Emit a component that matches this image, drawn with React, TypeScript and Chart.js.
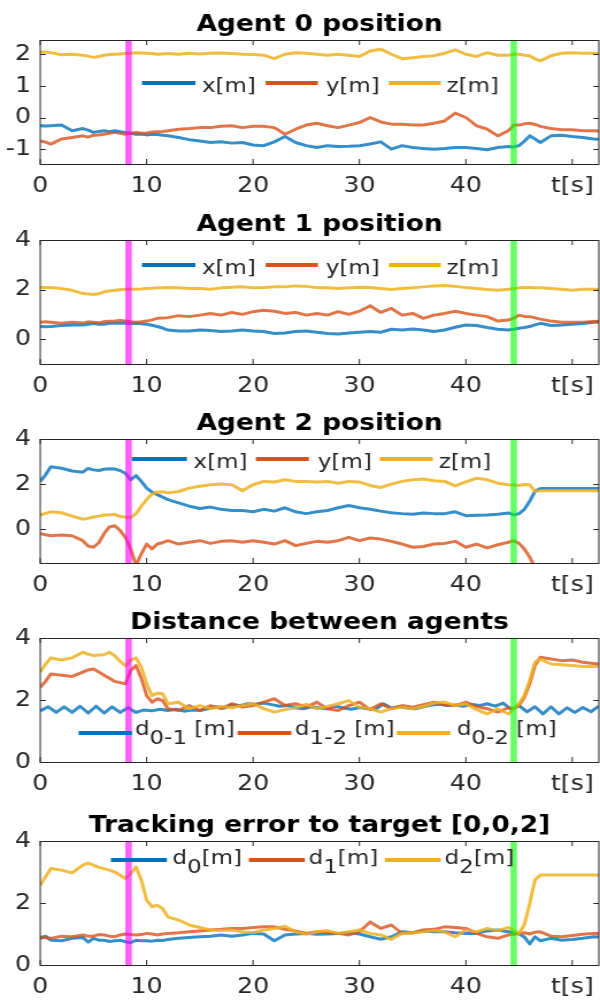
import React, { useEffect, useRef } from 'react';
import { Chart, registerables } from 'chart.js';

Chart.register(...registerables);

// ---------- layout constants (not data) ----------
const STRETCH = 1.15; // the reference figure is stretched horizontally
const CW = 522; // internal canvas width (600 / 1.15)
const CH = 199;
const FONT = '"DejaVu Sans", sans-serif';
const AXIS_COLOR = '#262626';
const BLUE = '#0072BD';
const ORANGE = '#D95319';
const YELLOW = '#EDB120';
const LINE_BLUE = 'rgba(0,114,189,0.8)';
const LINE_ORANGE = 'rgba(217,83,25,0.8)';
const LINE_YELLOW = 'rgba(237,177,32,0.85)';

// ---------- data ----------
const X_MIN = 0;
const X_MAX = 52.5;
const X_TICKS = [0, 10, 20, 30, 40, 50];
const X_TICK_LABELS = ['0', '10', '20', '30', '40', 't[s]'];
const MARK_MAGENTA = 8.3;
const MARK_GREEN = 44.5;

const T = [
  0, 0.5, 1, 2, 3, 4, 4.5, 5, 5.5, 6, 6.5, 7, 7.5, 8, 8.5, 9, 9.5, 10, 10.5, 11, 11.5,
  12, 13, 14, 15, 16, 17, 18, 19, 20, 21, 22, 23, 24, 25, 26, 27, 28, 29, 30, 31, 32, 33, 34, 35, 36, 37, 38, 39, 40, 41, 42, 43, 44,
  44.5, 45, 45.5, 46, 46.5, 47, 48, 49, 50, 51, 52, 52.5,
];

// Agent 0
const A0X = [
  -0.26, -0.27, -0.26, -0.24, -0.42, -0.35, -0.40, -0.47, -0.44, -0.42, -0.45, -0.42, -0.45, -0.47, -0.50, -0.53, -0.52, -0.55, -0.53, -0.54, -0.56,
  -0.58, -0.63, -0.70, -0.74, -0.79, -0.77, -0.81, -0.79, -0.87, -0.89, -0.77, -0.60, -0.79, -0.89, -0.95, -0.89, -0.92, -0.91, -0.89, -0.84, -0.77, -1.00, -0.89, -0.95, -0.98, -1.00, -0.98, -0.95, -0.95, -0.98, -1.02, -0.95, -0.92,
  -0.93, -0.89, -0.75, -0.58, -0.68, -0.79, -0.58, -0.56, -0.60, -0.63, -0.68, -0.69,
];
const A0Y = [
  -0.74, -0.78, -0.84, -0.68, -0.63, -0.58, -0.62, -0.56, -0.55, -0.53, -0.50, -0.47, -0.50, -0.53, -0.50, -0.47, -0.50, -0.49, -0.46, -0.45, -0.44,
  -0.42, -0.37, -0.35, -0.32, -0.32, -0.28, -0.26, -0.32, -0.28, -0.28, -0.32, -0.53, -0.37, -0.24, -0.18, -0.26, -0.32, -0.24, -0.16, 0.00, -0.14, -0.21, -0.21, -0.24, -0.24, -0.18, -0.11, 0.14, 0.00, -0.26, -0.37, -0.58, -0.42,
  -0.24, -0.24, -0.20, -0.18, -0.22, -0.28, -0.35, -0.39, -0.39, -0.42, -0.42, -0.43,
];
const A0Z = [
  2.07, 2.07, 2.05, 1.98, 2.00, 1.97, 1.94, 1.90, 1.93, 1.97, 1.99, 2.00, 2.01, 2.02, 2.03, 2.05, 2.04, 2.03, 2.02, 2.00, 2.01,
  2.02, 2.00, 2.03, 2.01, 2.03, 2.04, 2.02, 2.00, 1.99, 1.97, 1.86, 2.00, 2.05, 2.03, 2.00, 1.97, 2.00, 1.97, 1.93, 2.10, 2.16, 2.00, 1.86, 1.89, 1.93, 1.95, 2.03, 2.14, 2.00, 1.93, 2.05, 1.97, 1.97,
  2.00, 2.00, 1.97, 1.95, 1.85, 1.79, 1.95, 2.03, 2.05, 2.03, 2.03, 2.02,
];

// Agent 1
const A1X = [
  0.51, 0.50, 0.51, 0.55, 0.57, 0.57, 0.60, 0.63, 0.60, 0.60, 0.64, 0.65, 0.64, 0.64, 0.63, 0.64, 0.62, 0.60, 0.56, 0.51, 0.45,
  0.37, 0.33, 0.33, 0.37, 0.35, 0.31, 0.33, 0.37, 0.33, 0.31, 0.23, 0.25, 0.31, 0.33, 0.28, 0.23, 0.21, 0.25, 0.28, 0.31, 0.28, 0.40, 0.37, 0.41, 0.37, 0.31, 0.37, 0.48, 0.57, 0.55, 0.47, 0.40, 0.37,
  0.40, 0.44, 0.47, 0.51, 0.58, 0.64, 0.55, 0.57, 0.60, 0.63, 0.68, 0.69,
];
const A1Y = [
  0.68, 0.70, 0.68, 0.64, 0.68, 0.65, 0.70, 0.68, 0.66, 0.71, 0.72, 0.73, 0.75, 0.73, 0.70, 0.68, 0.70, 0.73, 0.78, 0.84, 0.85,
  0.87, 0.95, 0.91, 0.97, 1.04, 0.97, 1.08, 1.00, 1.11, 1.17, 1.13, 1.04, 1.08, 0.97, 1.04, 0.97, 1.11, 1.00, 1.13, 1.35, 1.08, 1.24, 0.97, 1.04, 0.84, 0.97, 1.04, 1.13, 1.04, 0.97, 0.91, 0.73, 0.77,
  0.85, 0.97, 0.92, 0.91, 0.86, 0.81, 0.73, 0.68, 0.68, 0.68, 0.71, 0.72,
];
const A1Z = [
  2.08, 2.08, 2.08, 2.04, 1.97, 1.84, 1.82, 1.80, 1.83, 1.91, 1.94, 1.97, 1.99, 2.01, 2.01, 2.01, 2.02, 2.04, 2.05, 2.07, 2.07,
  2.08, 2.07, 2.04, 2.04, 2.01, 2.07, 2.09, 2.11, 2.07, 2.08, 2.11, 2.11, 2.15, 2.13, 2.08, 2.07, 2.04, 2.07, 2.09, 2.08, 2.04, 2.00, 2.04, 2.07, 2.11, 2.15, 2.17, 2.13, 2.08, 2.04, 2.00, 1.97, 2.01,
  2.03, 2.07, 2.08, 2.08, 2.07, 2.07, 2.04, 2.01, 1.97, 2.01, 2.01, 2.00,
];

// Agent 2
const A2X = [
  2.12, 2.41, 2.77, 2.70, 2.58, 2.53, 2.70, 2.63, 2.60, 2.66, 2.68, 2.67, 2.60, 2.48, 2.19, 2.38, 2.12, 1.82, 1.65, 1.53, 1.42,
  1.31, 1.17, 1.02, 0.92, 0.98, 0.88, 0.83, 0.83, 0.77, 0.88, 0.80, 0.95, 0.77, 0.69, 0.77, 0.83, 0.95, 1.05, 0.95, 0.88, 0.80, 0.73, 0.69, 0.66, 0.72, 0.69, 0.69, 0.77, 0.60, 0.62, 0.63, 0.66, 0.72,
  0.63, 0.69, 0.88, 1.24, 1.68, 1.80, 1.80, 1.80, 1.80, 1.80, 1.80, 1.80,
];
const A2Y = [
  -0.19, -0.25, -0.29, -0.26, -0.29, -0.51, -0.75, -0.80, -0.60, -0.20, 0.10, 0.15, -0.05, -0.36, -0.88, -1.60, -1.10, -0.66, -0.88, -0.66, -0.60,
  -0.51, -0.66, -0.58, -0.51, -0.63, -0.54, -0.51, -0.58, -0.51, -0.58, -0.66, -0.51, -0.73, -0.63, -0.54, -0.58, -0.51, -0.36, -0.51, -0.39, -0.44, -0.54, -0.66, -0.80, -0.77, -0.66, -0.63, -0.54, -0.80, -0.66, -0.83, -0.69, -0.58,
  -0.51, -0.63, -0.88, -1.24, -1.70, -2.00, -2.00, -2.00, -2.00, -2.00, -2.00, -2.00,
];
const A2Z = [
  0.63, 0.70, 0.77, 0.73, 0.58, 0.44, 0.48, 0.54, 0.58, 0.63, 0.63, 0.66, 0.56, 0.54, 0.51, 0.69, 1.02, 1.31, 1.56, 1.65, 1.66,
  1.61, 1.67, 1.82, 1.90, 1.97, 2.00, 1.97, 1.71, 1.97, 2.12, 2.09, 2.19, 2.12, 2.12, 2.09, 2.12, 2.04, 2.12, 2.09, 1.94, 1.85, 2.00, 2.12, 2.19, 2.23, 2.15, 2.12, 1.92, 2.10, 2.26, 2.19, 2.04, 1.97,
  1.96, 1.94, 1.98, 1.97, 1.68, 1.70, 1.70, 1.70, 1.70, 1.70, 1.70, 1.70,
];

// Distances between agents
const T01 = [
  0, 0.75, 1.5, 2.25, 3, 3.75, 4.5, 5.25, 6, 6.75, 7.5, 8.25, 9, 9.75, 10.5, 11.25, 12, 12.75, 13.5, 14.25,
  15, 15.75, 16.5, 17.25, 18, 18.75, 19.5, 20.25, 21, 21.75, 22.5, 23.25, 24, 24.75, 25.5, 26.25, 27, 27.75, 28.5, 29.25,
  30, 30.75, 31.5, 32.25, 33, 33.75, 34.5, 35.25, 36, 36.75, 37.5, 38.25, 39, 39.75, 40.5, 41.25, 42, 42.75, 43.5, 44.25,
  45, 45.75, 46.5, 47.25, 48, 48.75, 49.5, 50.25, 51, 51.75, 52.5,
];
const D01 = [
  1.65, 1.78, 1.60, 1.78, 1.60, 1.80, 1.58, 1.80, 1.58, 1.78, 1.60, 1.75, 1.60, 1.68, 1.65, 1.70, 1.66, 1.70, 1.64, 1.68,
  1.66, 1.72, 1.78, 1.74, 1.85, 1.82, 1.88, 1.86, 1.90, 1.85, 1.80, 1.82, 1.75, 1.72, 1.78, 1.74, 1.72, 1.80, 1.74, 1.70,
  1.76, 1.72, 1.70, 1.88, 1.74, 1.78, 1.74, 1.72, 1.78, 1.84, 1.86, 1.82, 1.84, 1.80, 1.86, 1.82, 1.88, 1.80, 1.90, 1.70,
  1.82, 1.62, 1.78, 1.55, 1.78, 1.55, 1.75, 1.60, 1.76, 1.62, 1.80,
];
const D12 = [
  2.41, 2.60, 2.84, 2.80, 2.76, 2.90, 2.97, 3.00, 2.90, 2.80, 2.70, 2.60, 2.56, 2.52, 2.95, 3.11, 2.70, 2.14, 1.93, 2.04, 1.98,
  1.72, 1.66, 1.82, 1.66, 1.82, 1.72, 1.88, 1.77, 1.82, 1.93, 2.04, 1.82, 1.88, 1.77, 1.93, 1.72, 1.66, 1.82, 1.93, 1.69, 1.88, 1.72, 1.82, 1.77, 1.85, 1.93, 1.85, 1.82, 1.93, 1.79, 1.72, 1.61, 1.75,
  1.72, 1.82, 2.09, 2.52, 3.11, 3.38, 3.32, 3.27, 3.29, 3.22, 3.18, 3.16,
];
const D02 = [
  2.90, 3.15, 3.36, 3.29, 3.36, 3.54, 3.48, 3.43, 3.45, 3.46, 3.54, 3.43, 3.25, 3.11, 3.29, 3.36, 3.06, 2.52, 2.14, 2.22, 2.20,
  1.88, 1.93, 1.72, 1.82, 1.72, 1.79, 1.75, 1.82, 1.88, 1.72, 1.61, 1.69, 1.75, 1.86, 1.72, 1.79, 1.88, 1.98, 1.77, 1.72, 1.61, 1.72, 1.77, 1.72, 1.79, 1.90, 1.93, 1.82, 1.88, 1.69, 1.55, 1.72, 1.55,
  1.72, 1.88, 2.14, 2.63, 3.22, 3.32, 3.16, 3.14, 3.11, 3.08, 3.08, 3.08,
];

// Tracking error
const E0 = [
  0.86, 0.93, 0.80, 0.78, 0.86, 0.89, 0.74, 0.86, 0.80, 0.80, 0.76, 0.78, 0.80, 0.75, 0.72, 0.80, 0.78, 0.78, 0.77, 0.80, 0.79,
  0.82, 0.86, 0.89, 0.91, 0.93, 0.97, 0.93, 0.97, 1.02, 1.00, 0.78, 0.97, 1.00, 1.02, 0.99, 1.00, 1.02, 1.04, 1.00, 0.91, 0.83, 0.91, 1.07, 1.04, 1.10, 1.07, 1.07, 1.04, 1.02, 1.02, 1.10, 1.13, 1.07,
  1.04, 1.00, 0.90, 0.68, 0.91, 0.78, 0.86, 0.80, 0.82, 0.86, 0.91, 0.90,
];
const E1 = [
  0.91, 0.88, 0.86, 0.93, 0.91, 0.97, 0.93, 0.93, 0.98, 0.97, 0.93, 0.91, 0.97, 1.00, 0.98, 0.97, 0.98, 1.02, 1.00, 0.97, 1.00,
  1.02, 1.04, 1.07, 1.10, 1.13, 1.15, 1.18, 1.18, 1.21, 1.23, 1.23, 1.15, 1.10, 1.02, 1.07, 1.04, 1.02, 0.97, 1.07, 1.39, 1.18, 1.29, 1.02, 1.04, 1.13, 1.15, 1.23, 1.21, 1.18, 1.02, 0.91, 0.86, 0.97,
  0.99, 1.02, 1.04, 1.00, 1.06, 1.07, 0.93, 0.91, 0.95, 0.99, 1.02, 1.02,
];
const E2 = [
  2.57, 2.85, 3.11, 3.06, 2.97, 3.22, 3.29, 3.22, 3.15, 3.11, 3.06, 3.00, 2.90, 2.79, 2.95, 3.16, 2.74, 2.09, 1.88, 1.93, 1.82,
  1.55, 1.45, 1.29, 1.21, 1.13, 1.11, 1.13, 1.07, 1.04, 1.13, 1.18, 1.25, 1.07, 0.99, 1.07, 1.11, 1.02, 1.07, 1.13, 1.02, 0.97, 0.83, 1.02, 1.04, 1.07, 1.11, 1.07, 0.91, 1.13, 1.07, 1.18, 1.11, 1.21,
  1.11, 1.02, 1.30, 1.98, 2.75, 2.90, 2.90, 2.90, 2.90, 2.90, 2.90, 2.90,
];

const TICKS_P1 = [-1, 0, 1, 2];
const TICKS_024 = [0, 2, 4];

type LegendLabel = { main: string; sub?: string; suffix?: string };
type Series = { xs: number[]; ys: number[]; color: string; key: string };
type PanelDef = {
  top: number;
  title: string;
  yMin: number;
  yMax: number;
  yTicks: number[];
  series: Series[];
  legend: {
    y: number;
    baseOff: number;
    sx: number[];
    ex: number[];
    tx: number[];
    labels: LegendLabel[];
  };
};

const XYZ_LABELS: LegendLabel[] = [{ main: 'x[m]' }, { main: 'y[m]' }, { main: 'z[m]' }];
const SERIES_COLORS = [BLUE, ORANGE, YELLOW];
const LINE_COLORS = [LINE_BLUE, LINE_ORANGE, LINE_YELLOW];

const PANELS: PanelDef[] = [
  {
    top: 0,
    title: 'Agent 0 position',
    yMin: -1.47,
    yMax: 2.45,
    yTicks: TICKS_P1,
    series: [
      { xs: T, ys: A0X, color: LINE_BLUE, key: 'x' },
      { xs: T, ys: A0Y, color: LINE_ORANGE, key: 'y' },
      { xs: T, ys: A0Z, color: LINE_YELLOW, key: 'z' },
    ],
    legend: { y: 83, baseOff: 8.5, sx: [142, 265.7, 389], ex: [195.5, 318, 441], tx: [202, 326, 446.7], labels: XYZ_LABELS },
  },
  {
    top: 200,
    title: 'Agent 1 position',
    yMin: -1,
    yMax: 4,
    yTicks: TICKS_024,
    series: [
      { xs: T, ys: A1X, color: LINE_BLUE, key: 'x' },
      { xs: T, ys: A1Y, color: LINE_ORANGE, key: 'y' },
      { xs: T, ys: A1Z, color: LINE_YELLOW, key: 'z' },
    ],
    legend: { y: 65, baseOff: 8.5, sx: [142, 265.7, 389], ex: [195.5, 318, 441], tx: [202, 326, 446.7], labels: XYZ_LABELS },
  },
  {
    top: 399,
    title: 'Agent 2 position',
    yMin: -1.5,
    yMax: 4,
    yTicks: TICKS_024,
    series: [
      { xs: T, ys: A2X, color: LINE_BLUE, key: 'x' },
      { xs: T, ys: A2Y, color: LINE_ORANGE, key: 'y' },
      { xs: T, ys: A2Z, color: LINE_YELLOW, key: 'z' },
    ],
    legend: { y: 60, baseOff: 8.5, sx: [132, 256, 380], ex: [187, 309, 433], tx: [193.6, 318, 439], labels: XYZ_LABELS },
  },
  {
    top: 598,
    title: 'Distance between agents',
    yMin: 0,
    yMax: 4,
    yTicks: TICKS_024,
    series: [
      { xs: T01, ys: D01, color: LINE_BLUE, key: 'd01' },
      { xs: T, ys: D12, color: LINE_ORANGE, key: 'd12' },
      { xs: T, ys: D02, color: LINE_YELLOW, key: 'd02' },
    ],
    legend: {
      y: 135,
      baseOff: 2,
      sx: [78.6, 237.7, 397],
      ex: [132, 291.4, 450.5],
      tx: [135, 295, 457],
      labels: [
        { main: 'd', sub: '0-1', suffix: ' [m]' },
        { main: 'd', sub: '1-2', suffix: ' [m]' },
        { main: 'd', sub: '0-2', suffix: ' [m]' },
      ],
    },
  },
  {
    top: 801,
    title: 'Tracking error to target [0,0,2]',
    yMin: 0,
    yMax: 4,
    yTicks: TICKS_024,
    series: [
      { xs: T, ys: E0, color: LINE_BLUE, key: 'd0' },
      { xs: T, ys: E1, color: LINE_ORANGE, key: 'd1' },
      { xs: T, ys: E2, color: LINE_YELLOW, key: 'd2' },
    ],
    legend: {
      y: 59,
      baseOff: 4,
      sx: [111, 249, 385],
      ex: [167, 305, 441],
      tx: [172.5, 308.7, 444.8],
      labels: [
        { main: 'd', sub: '0', suffix: '[m]' },
        { main: 'd', sub: '1', suffix: '[m]' },
        { main: 'd', sub: '2', suffix: '[m]' },
      ],
    },
  },
];

function makeDecor(p: PanelDef) {
  return {
    id: 'decor',
    afterDraw(chart: any) {
      const { ctx, chartArea: a, scales } = chart;
      ctx.save();
      // legend (no box)
      const lg = p.legend;
      for (let i = 0; i < lg.labels.length; i++) {
        ctx.beginPath();
        ctx.strokeStyle = SERIES_COLORS[i];
        ctx.lineWidth = 4;
        ctx.lineCap = 'butt';
        ctx.moveTo(lg.sx[i] / STRETCH, lg.y);
        ctx.lineTo(lg.ex[i] / STRETCH, lg.y);
        ctx.stroke();
        const lab = lg.labels[i];
        ctx.fillStyle = AXIS_COLOR;
        ctx.textAlign = 'left';
        ctx.textBaseline = 'alphabetic';
        ctx.font = `20px ${FONT}`;
        let x = lg.tx[i] / STRETCH;
        const base = lg.y + lg.baseOff;
        ctx.fillText(lab.main, x, base);
        x += ctx.measureText(lab.main).width;
        if (lab.sub) {
          ctx.fillText(lab.sub, x, base + 9);
          x += ctx.measureText(lab.sub).width;
        }
        if (lab.suffix) {
          ctx.fillText(lab.suffix, x, base);
        }
      }
      // axes box
      ctx.strokeStyle = AXIS_COLOR;
      ctx.lineWidth = 1;
      ctx.strokeRect(a.left, a.top + 0.5, a.right - a.left, a.bottom - a.top);
      // inward ticks
      ctx.beginPath();
      for (const v of X_TICKS) {
        const px = scales.x.getPixelForValue(v);
        ctx.moveTo(px, a.bottom);
        ctx.lineTo(px, a.bottom - 5);
        ctx.moveTo(px, a.top);
        ctx.lineTo(px, a.top + 5);
      }
      for (const v of p.yTicks) {
        const py = Math.round(scales.y.getPixelForValue(v)) + 0.5;
        ctx.moveTo(a.left, py);
        ctx.lineTo(a.left + 4.8, py);
        ctx.moveTo(a.right, py);
        ctx.lineTo(a.right - 4.8, py);
      }
      ctx.stroke();
      // title
      ctx.fillStyle = '#000';
      ctx.font = `bold 23px ${FONT}`;
      ctx.textAlign = 'center';
      ctx.textBaseline = 'alphabetic';
      ctx.fillText(p.title, (a.left + a.right) / 2, 31);
      ctx.restore();
    },
  };
}

function buildConfig(p: PanelDef): any {
  const datasets: any[] = [];
  const mk = (t: number, color: string) => ({
    type: 'line',
    data: [
      { x: t, y: p.yMin - 1 },
      { x: t, y: p.yMax + 1 },
    ],
    borderColor: color,
    borderWidth: 6.5 / STRETCH,
    borderCapStyle: 'butt',
    pointRadius: 0,
    order: 0,
  });
  datasets.push(mk(MARK_MAGENTA, 'rgba(255,0,255,0.62)'));
  datasets.push(mk(MARK_GREEN, 'rgba(0,255,0,0.6)'));
  p.series.forEach((s, i) => {
    const n = Math.min(s.xs.length, s.ys.length);
    const pts = [] as { x: number; y: number }[];
    for (let k = 0; k < n; k++) pts.push({ x: s.xs[k], y: s.ys[k] });
    datasets.push({
      type: 'line',
      label: s.key,
      data: pts,
      borderColor: LINE_COLORS[i],
      borderWidth: 3,
      borderJoinStyle: 'round',
      pointRadius: 0,
      tension: 0,
      fill: false,
      order: 3 - i,
    });
  });
  return {
    type: 'line',
    data: { datasets },
    options: {
      responsive: false,
      maintainAspectRatio: false,
      animation: false,
      devicePixelRatio: 1,
      events: [],
      layout: { padding: { top: 40, left: 0, right: 1, bottom: 0 } },
      plugins: { legend: { display: false }, tooltip: { enabled: false }, title: { display: false } },
      scales: {
        x: {
          type: 'linear',
          min: X_MIN,
          max: X_MAX,
          grid: { display: false, drawTicks: false },
          border: { display: false },
          afterBuildTicks: (scale: any) => {
            scale.ticks = X_TICKS.map((v) => ({ value: v }));
          },
          afterFit: (scale: any) => {
            scale.height = 35;
            scale.paddingLeft = 0;
            scale.paddingRight = 0;
          },
          ticks: {
            autoSkip: false,
            maxRotation: 0,
            padding: 9,
            color: AXIS_COLOR,
            font: { family: FONT, size: 22 },
            callback: (v: number) => {
              const i = X_TICKS.indexOf(v);
              return i >= 0 ? X_TICK_LABELS[i] : '';
            },
          },
        },
        y: {
          type: 'linear',
          min: p.yMin,
          max: p.yMax,
          grid: { display: false, drawTicks: false },
          border: { display: false },
          afterBuildTicks: (scale: any) => {
            scale.ticks = p.yTicks.map((v) => ({ value: v }));
          },
          afterFit: (scale: any) => {
            scale.width = 35;
            scale.paddingTop = 0;
            scale.paddingBottom = 0;
          },
          ticks: {
            autoSkip: false,
            padding: 8,
            color: AXIS_COLOR,
            font: { family: FONT, size: 22 },
            callback: (v: number) => String(v),
          },
        },
      },
    },
    plugins: [makeDecor(p)],
  };
}

function Panel({ p }: { p: PanelDef }) {
  const ref = useRef<HTMLCanvasElement>(null);
  useEffect(() => {
    const chart = new Chart(ref.current as HTMLCanvasElement, buildConfig(p));
    return () => chart.destroy();
  }, [p]);
  return (
    <canvas
      ref={ref}
      width={CW}
      height={CH}
      style={{ position: 'absolute', left: 0, top: p.top, width: '600px', height: `${CH}px`, display: 'block' }}
    />
  );
}

export default function App() {
  return (
    <div style={{ position: 'fixed', left: 0, top: 0, width: 600, height: 1005, background: '#fff', overflow: 'hidden' }}>
      {PANELS.map((p, i) => (
        <Panel key={i} p={p} />
      ))}
    </div>
  );
}
